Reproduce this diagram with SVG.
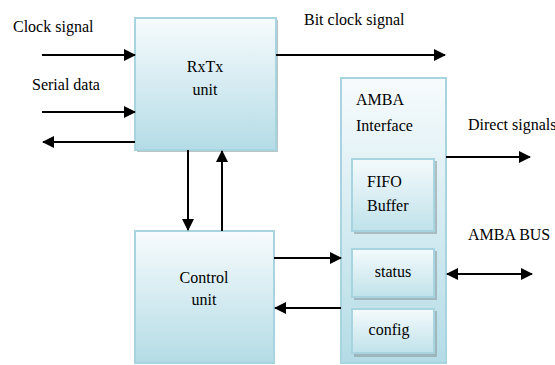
<svg xmlns="http://www.w3.org/2000/svg" width="555" height="365" viewBox="0 0 555 365">
<defs>
<linearGradient id="g" x1="0" y1="0" x2="0" y2="1">
<stop offset="0" stop-color="#f7fbfd"/>
<stop offset="1" stop-color="#b4dce6"/>
</linearGradient>
<linearGradient id="g2" x1="0" y1="0" x2="0" y2="1">
<stop offset="0" stop-color="#f4fafc"/>
<stop offset="1" stop-color="#c0e2ea"/>
</linearGradient>
<marker id="ah" markerWidth="12" markerHeight="12" refX="11" refY="6" orient="auto" markerUnits="userSpaceOnUse" viewBox="0 0 12 12">
<path d="M0,0 L12,6 L0,12 Z" fill="#000"/>
</marker>
<marker id="as" markerWidth="12" markerHeight="12" refX="1" refY="6" orient="auto" markerUnits="userSpaceOnUse" viewBox="0 0 12 12">
<path d="M12,0 L0,6 L12,12 Z" fill="#000"/>
</marker>
</defs>
<style>
.box{fill:url(#g);stroke:#a8d4e0;stroke-width:2}
.sub{fill:url(#g2);stroke:#a8d4e0;stroke-width:2}
.sh{fill:#8c9ba0;opacity:0.6}
text{font-family:'Liberation Serif','DejaVu Serif',serif;font-size:16px;fill:#000}
.c{text-anchor:middle}
.ln{stroke:#000;stroke-width:2;fill:none;marker-end:url(#ah)}
</style>
<rect width="555" height="365" fill="#fff"/>
<g id="rxtx">
<rect class="sh" x="137" y="20" width="141" height="132"/>
<rect class="box" x="135" y="18" width="141" height="132"/>
<text class="c" x="205" y="72" font-family="Liberation Serif, serif">RxTx</text>
<text class="c" x="205" y="95" font-family="Liberation Serif, serif">unit</text>
</g>
<g id="control">
<rect class="box" x="135" y="231" width="139" height="132"/>
<text class="c" x="204" y="283" font-family="Liberation Serif, serif">Control</text>
<text class="c" x="204" y="305" font-family="Liberation Serif, serif">unit</text>
</g>
<g id="amba">
<rect class="box" x="341" y="78" width="105" height="285"/>
<text x="356" y="105" font-family="Liberation Serif, serif">AMBA</text>
<text x="356" y="131" font-family="Liberation Serif, serif">Interface</text>
</g>
<g id="fifo">
<rect class="sh" x="354" y="161" width="83" height="73"/>
<rect class="sub" x="352" y="159" width="82" height="72"/>
<text x="367" y="187" font-family="Liberation Serif, serif">FIFO</text>
<text x="367" y="211" font-family="Liberation Serif, serif">Buffer</text>
</g>
<g id="status">
<rect class="sh" x="354" y="251" width="83" height="49"/>
<rect class="sub" x="352" y="249" width="82" height="48"/>
<text class="c" x="393" y="277" font-family="Liberation Serif, serif">status</text>
</g>
<g id="config">
<rect class="sh" x="354" y="311" width="83" height="46"/>
<rect class="sub" x="352" y="309" width="82" height="44"/>
<text class="c" x="389" y="335" font-family="Liberation Serif, serif">config</text>
</g>
<g id="labels">
<text x="13" y="32" font-family="Liberation Serif, serif">Clock signal</text>
<text x="32" y="90" font-family="Liberation Serif, serif">Serial data</text>
<text x="304" y="25" font-family="Liberation Serif, serif">Bit clock signal</text>
<text x="468" y="130" font-family="Liberation Serif, serif">Direct signals</text>
<text x="468" y="240" font-family="Liberation Serif, serif">AMBA BUS</text>
</g>
<g id="connectors">
<line class="ln" x1="42" y1="55" x2="135" y2="55"/>
<line class="ln" x1="42" y1="112" x2="135" y2="112"/>
<line class="ln" x1="135" y1="142" x2="43" y2="142"/>
<line class="ln" x1="276" y1="55" x2="445" y2="55"/>
<line class="ln" x1="188" y1="150" x2="188" y2="230"/>
<line class="ln" x1="222" y1="231" x2="222" y2="151"/>
<line class="ln" x1="274" y1="258" x2="341" y2="258"/>
<line class="ln" x1="341" y1="308" x2="275" y2="308"/>
<line class="ln" x1="446" y1="157" x2="530" y2="157"/>
<line class="ln" x1="447" y1="274" x2="532" y2="274" marker-start="url(#as)"/>
</g>
</svg>
